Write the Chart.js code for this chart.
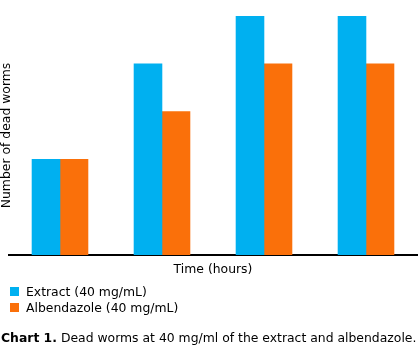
<!DOCTYPE html>
<html><head><meta charset="utf-8">
<script src="https://cdn.jsdelivr.net/npm/chart.js@4/dist/chart.umd.min.js"></script>
<style>html,body{margin:0;padding:0;background:#fff;overflow:hidden}#wrap{width:420px;height:353px}</style>
</head><body><div id="wrap"><canvas id="c" width="420" height="353"></canvas></div>
<script>
const categories = ['1', '2', '3', '4'];
const extractValues = [2, 4, 5, 5];
const albendazoleValues = [2, 3, 4, 4];
const seriesLabels = ['Extract (40 mg/mL)', 'Albendazole (40 mg/mL)'];
const yTitle = 'Number of dead worms';
const xTitle = 'Time (hours)';
const captionBold = 'Chart 1.';
const captionText = ' Dead worms at 40 mg/ml of the extract and albendazole.';
const FONT = '"DejaVu Sans", Verdana, sans-serif';
const FS = 12.4;

const legendCaption = {
  id: 'legendCaption',
  afterDraw(chart) {
    const ctx = chart.ctx;
    ctx.save();
    ctx.textBaseline = 'alphabetic';
    ctx.textAlign = 'left';
    ctx.font = FS + 'px ' + FONT;
    chart.data.datasets.forEach((ds, i) => {
      const y = 287 + i * 16;
      ctx.fillStyle = ds.backgroundColor;
      ctx.fillRect(10, y, 9, 9);
      ctx.fillStyle = '#000';
      ctx.fillText(ds.label, 26, y + 9);
    });
    ctx.fillStyle = '#000';
    ctx.font = 'bold ' + FS + 'px ' + FONT;
    ctx.fillText(captionBold, 1, 342);
    const w = ctx.measureText(captionBold).width;
    ctx.font = FS + 'px ' + FONT;
    ctx.fillText(captionText, 1 + w, 342);
    ctx.restore();
  }
};

new Chart(document.getElementById('c'), {
  type: 'bar',
  data: {
    labels: categories,
    datasets: [
      { label: seriesLabels[0], data: extractValues, backgroundColor: '#00b0f0', borderWidth: 0, categoryPercentage: 56 / 102, barPercentage: 1, inflateAmount: 0.3 },
      { label: seriesLabels[1], data: albendazoleValues, backgroundColor: '#fa700a', borderWidth: 0, categoryPercentage: 56 / 102, barPercentage: 1, inflateAmount: 0.3 }
    ]
  },
  options: {
    responsive: false,
    animation: false,
    devicePixelRatio: 1,
    layout: { padding: { left: 0, right: 3, top: 16, bottom: 75.8 } },
    plugins: { legend: { display: false }, tooltip: { enabled: false } },
    scales: {
      x: {
        grid: { display: false, drawTicks: false },
        ticks: { display: false },
        border: { display: true, color: '#000', width: 2 },
        title: { display: true, text: xTitle, color: '#000', font: { family: FONT, size: FS, lineHeight: '14.4px' }, padding: { top: 7.8, bottom: 0 } }
      },
      y: {
        min: 0, max: 5,
        grid: { display: false, drawTicks: false },
        ticks: { display: false },
        border: { display: false },
        title: { display: true, text: yTitle, color: '#000', font: { family: FONT, size: FS, lineHeight: '4px' }, padding: { top: 4.85, bottom: 0.15 } }
      }
    }
  },
  plugins: [legendCaption]
});
</script>
</body></html>
